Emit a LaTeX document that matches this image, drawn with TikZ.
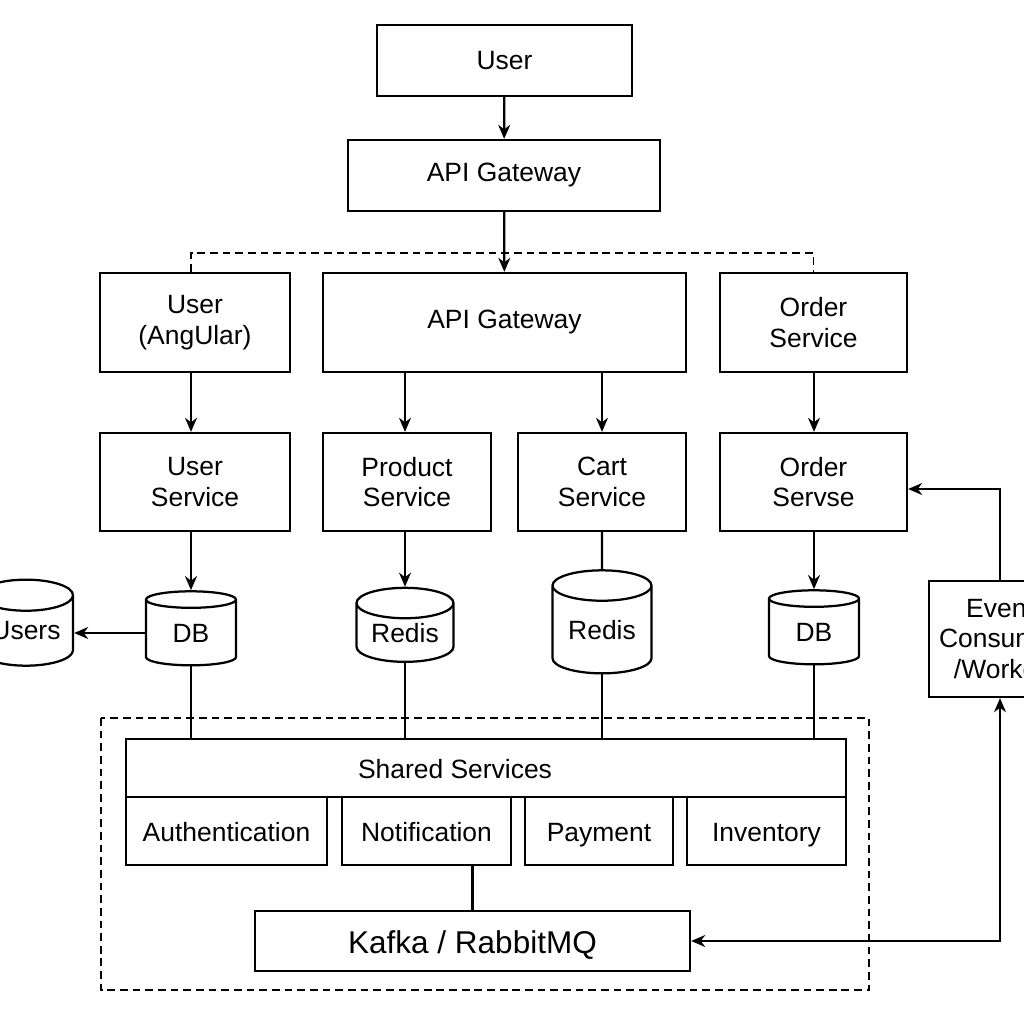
\documentclass[tikz,border=0pt]{standalone}
\usepackage{fontspec}
\setmainfont{Liberation Sans}
\usetikzlibrary{arrows.meta,shapes.geometric}

\begin{document}
\begin{tikzpicture}[x=0.025cm, y=-0.025cm,
	box/.style={draw, line width=1.6pt, align=center, inner sep=0pt,
		font=\fontsize{18.8}{21.8}\selectfont},
	sub/.style={box, text height=18.8pt, text depth=4pt},
	db/.style={draw, line width=1.6pt, cylinder, shape border rotate=90,
		aspect=0.45, inner sep=0pt, font=\fontsize{18.8}{22}\selectfont},
	link/.style={line width=1.6pt},
	frame/.style={line width=1.2pt, dash pattern=on 5.5pt off 3.5pt},
	arr/.style={line width=1.6pt, -{Stealth[length=10pt, width=8.5pt]}}]

	\useasboundingbox (0,0) rectangle (1024,1024);

	% top
	\node[box, minimum width=6.375cm, minimum height=1.775cm] (user) at (504.5, 60.5) {User};
	\node[box, minimum width=7.8cm, minimum height=1.775cm] (gw) at (504, 175.5) {API Gateway};

	% row 1
	\node[box, minimum width=4.75cm, minimum height=2.475cm] (ang) at (195, 322.5) {User\\(AngUlar)};
	\node[box, minimum width=9.075cm, minimum height=2.475cm] (gwb) at (504.5, 322.5) {API Gateway};
	\node[box, minimum width=4.675cm, minimum height=2.475cm] (ordA) at (813.5, 322.5) {Order\\Service};

	% row 2
	\node[box, minimum width=4.75cm, minimum height=2.45cm] (usrS) at (195, 482) {User\\Service};
	\node[box, minimum width=4.2cm, minimum height=2.45cm] (prodS) at (407, 482) {Product\\Service};
	\node[box, minimum width=4.2cm, minimum height=2.45cm] (cartS) at (602, 482) {Cart\\Service};
	\node[box, minimum width=4.675cm, minimum height=2.45cm] (ordS) at (813.5, 482) {Order\\Servse};

	% stores
	\node[db, minimum width=2.35cm, minimum height=2.15cm] (users) at (26, 631) {Users};
	\node[db, minimum width=2.25cm, minimum height=1.85cm] (dbU) at (191, 633) {DB};
	\node[db, minimum width=2.425cm, minimum height=1.85cm] (redisP) at (405, 633) {Redis};
	\node[db, minimum width=2.475cm, minimum height=2.575cm] (redisC) at (602, 630) {Redis};
	\node[db, minimum width=2.25cm, minimum height=1.85cm] (dbO) at (814, 632) {DB};

	\node[box, minimum width=3.55cm, minimum height=2.9cm] (ev) at (1000, 639) {Event\\Consumer\\/Worker};

	% shared part
	\draw[frame] (101, 718) rectangle (869, 990);
	\node[sub, minimum width=18cm, minimum height=1.45cm] (shared) at (486, 768) {Shared Services\hspace{1.55cm}};
	\node[sub, minimum width=5.025cm, minimum height=1.7cm] (auth) at (226.5, 831) {Authentication};
	\node[sub, minimum width=4.225cm, minimum height=1.7cm] (notif) at (426.5, 831) {Notification};
	\node[sub, minimum width=3.7cm, minimum height=1.7cm] (pay) at (599, 831) {Payment};
	\node[sub, minimum width=3.975cm, minimum height=1.7cm] (inv) at (766.5, 831) {Inventory};
	\node[sub, minimum width=10.875cm, minimum height=1.5cm, font=\fontsize{22.4}{26}\selectfont,
		text height=22.4pt, text depth=5pt] (kafka) at (472.5, 941) {Kafka / RabbitMQ};

	\coordinate (split) at (504.5, 253);

	% connectors
	\draw[arr] (user) -- (gw);
	\draw[arr] (gw) -- (gwb);
	\draw[frame] (dbU.north |- ang.north) |- (split) -| (ordA.north);
	\draw[arr] (dbU.north |- ang.south) -- (dbU.north |- usrS.north);
	\draw[arr] (redisP.north |- gwb.south) -- (redisP.north |- prodS.north);
	\draw[arr] (cartS.north |- gwb.south) -- (cartS.north);
	\draw[arr] (dbO.north |- ordA.south) -- (dbO.north |- ordS.north);
	\draw[arr] (dbU.north |- usrS.south) -- (dbU.north);
	\draw[arr] (redisP.north |- prodS.south) -- (redisP.north);
	\draw[link] (cartS.south) -- (redisC.north);
	\draw[arr] (dbO.north |- ordS.south) -- (dbO.north);
	\draw[arr] (dbU.west) -- (users.east |- dbU.west);
	\draw[link] (dbU.south) -- (dbU.south |- shared.north);
	\draw[link] (redisP.south) -- (redisP.south |- shared.north);
	\draw[link] (redisC.south) -- (redisC.south |- shared.north);
	\draw[link] (dbO.south) -- (dbO.south |- shared.north);
	\draw[link] (kafka.north |- notif.south) -- (kafka.north);
	\draw[arr] (ev.north) |- ([yshift=-7*0.025cm]ordS.east);
	\draw[line width=1.6pt, {Stealth[length=10pt, width=8.5pt]}-{Stealth[length=10pt, width=8.5pt]}] (kafka.east) -| (ev.south);

\end{tikzpicture}
\end{document}
